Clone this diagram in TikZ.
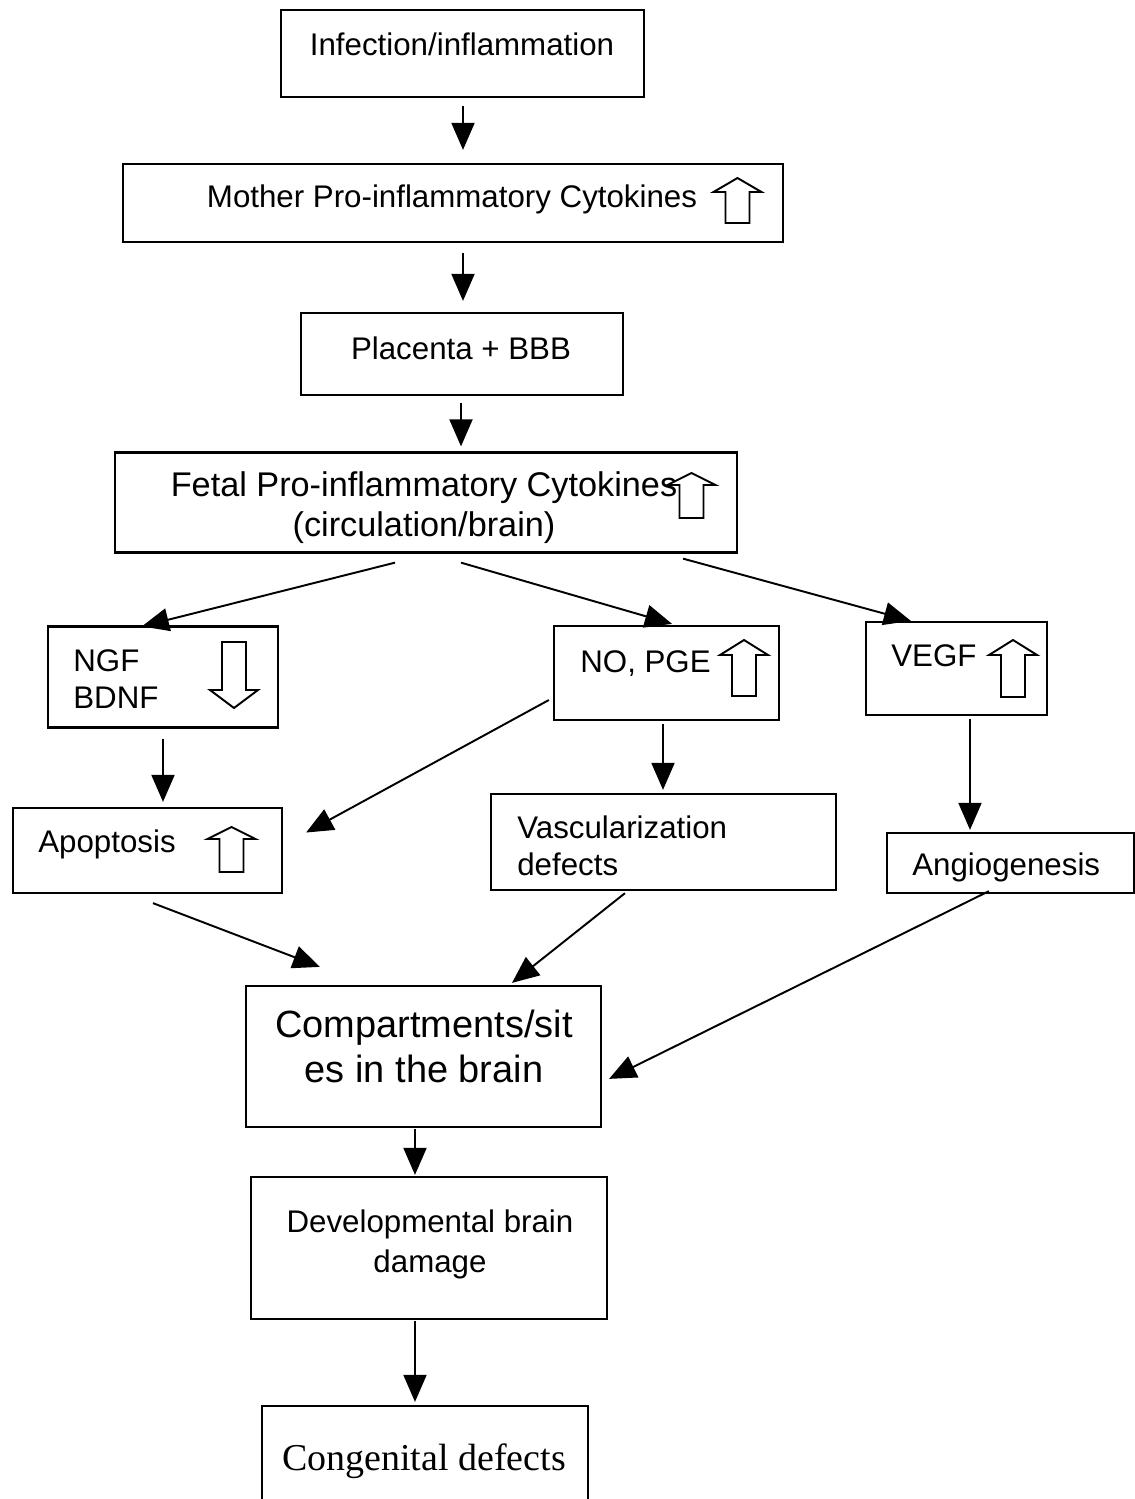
\documentclass[tikz,border=0pt]{standalone}
\usepackage{fontspec}
\setmainfont{Liberation Sans}
\newfontfamily\congfont{Liberation Serif}
\usetikzlibrary{arrows.meta,calc}
\tikzset{
  box/.style={draw, line width=1.3pt, rectangle, inner sep=0pt},
  txt/.style={inner sep=0pt, anchor=base, font=\fontsize{17.8}{20.6}\selectfont},
  ltxt/.style={txt, anchor=base west, align=left},
  arr/.style={line width=1.1pt, -{Triangle[length=0.54cm,width=0.46cm]}},
  hollow/.style={draw, line width=1.1pt, line join=miter},
  pics/updown/.style 2 args={code={
    \draw[hollow] (-12,0) -- (-12,-#1+#2) -- (-24,-#1+#2) -- (0,-#1)
      -- (24,-#1+#2) -- (12,-#1+#2) -- (12,0) -- cycle;}}
}
\begin{document}
\begin{tikzpicture}[x=0.02cm,y=-0.02cm]
\useasboundingbox (0,0) rectangle (1135,1499);

\node[box, minimum width=7.26cm, minimum height=1.74cm] (infect) at (462.5,53.5) {};
\node[txt] (infect-t) at (462,55) {Infection/inflammation};

\node[box, minimum width=13.2cm, minimum height=1.56cm] (mother) at (453,203) {};
\node[txt] (mother-t) at (452,207) {Mother Pro-inflammatory Cytokines};
\pic at (737.5,223) {updown={45}{14}};

\node[box, minimum width=6.44cm, minimum height=1.64cm] (placenta) at (462,354) {};
\node[txt] (placenta-t) at (461,359) {Placenta + BBB};

\node[box, minimum width=12.44cm, minimum height=2cm] (fetal) at (426,502.5) {};
\node[txt, font=\fontsize{19.5}{22.7}\selectfont, align=center] (fetal-t) at (424,536)
  {Fetal Pro-inflammatory Cytokines\\(circulation/brain)};
\pic at (691.5,518) {updown={45}{12}};

\node[box, minimum width=4.6cm, minimum height=2.02cm] (ngf) at (163,677) {};
\node[ltxt] (ngf-t) at (73,708) {NGF\\BDNF};
\pic[rotate=180] at (234,642) {updown={66}{18}};

\node[box, minimum width=4.5cm, minimum height=1.88cm] (nopge) at (666.5,673) {};
\node[ltxt] (nopge-t) at (580,672) {NO, PGE};
\pic at (744,696) {updown={56}{15}};

\node[box, minimum width=3.62cm, minimum height=1.86cm] (vegf) at (956.5,668.5) {};
\node[ltxt] (vegf-t) at (891,666) {VEGF};
\pic at (1013,697) {updown={57}{15}};

\node[box, minimum width=5.38cm, minimum height=1.7cm] (apop) at (147.5,850.5) {};
\node[ltxt] (apop-t) at (38,852) {Apoptosis};
\pic at (231.5,872) {updown={45}{12}};

\node[box, minimum width=6.9cm, minimum height=1.92cm] (vasc) at (663.5,842) {};
\node[ltxt, font=\fontsize{17.8}{21}\selectfont] (vasc-t) at (517,875) {Vascularization\\defects};

\node[box, minimum width=4.94cm, minimum height=1.2cm] (angio) at (1010.5,863) {};
\node[ltxt] (angio-t) at (912,875) {Angiogenesis};

\node[box, minimum width=7.1cm, minimum height=2.82cm] (comp) at (423.5,1056.5) {};
\node[txt, font=\fontsize{21.6}{25.5}\selectfont, align=center] (comp-t) at (424,1082)
  {Compartments/sit\\es in the brain};

\node[box, minimum width=7.12cm, minimum height=2.84cm] (devel) at (429,1248) {};
\node[txt, align=center, font=\fontsize{17.8}{22.7}\selectfont] (devel-t) at (430,1272)
  {Developmental brain\\damage};

\node[box, minimum width=6.52cm, minimum height=2.4cm] (cong) at (425,1466) {};
\node[txt, font=\congfont\fontsize{21.6}{25}\selectfont] (cong-t) at (424,1470) {Congenital defects};

\draw[arr] ($(infect.south)+(0.5,8)$) -- ($(infect.south |- mother.north)+(0.5,-13)$);
\draw[arr] ($(placenta.north |- mother.south)+(1,10)$) -- ($(placenta.north)+(1,-11)$);
\draw[arr] ($(placenta.south)+(-1,7)$) -- ($(placenta.south |- fetal.north)+(-1,-5)$);
\draw[arr] ($(fetal.south)+(-31,9)$) -- ($(ngf.north west)+(95,1)$);
\draw[arr] ($(fetal.south)+(35,9)$) -- ($(nopge.north)+(5.5,-1)$);
\draw[arr] ($(fetal.south east)+(-55,5)$) -- ($(vegf.north west)+(46,0)$);
\draw[arr] ($(ngf.south)+(0,10)$) -- ($(ngf.south |- apop.north)+(0,-5)$);
\draw[arr] ($(nopge.west)+(-4,27)$) -- ($(apop.east)+(23,-18)$);
\draw[arr] ($(nopge.south)+(-3.5,3)$) -- ($(nopge.south |- vasc.north)+(-3.5,-3)$);
\draw[arr] ($(vegf.south)+(13.5,3)$) -- ($(vegf.south |- angio.north)+(13.5,-2)$);
\draw[arr] ($(apop.south)+(5.5,9)$) -- ($(comp.north west)+(75,-18)$);
\draw[arr] ($(vasc.south)+(-38.5,2)$) -- ($(comp.north)+(88.5,-2)$);
\draw[arr] ($(angio.south west)+(103,-3)$) -- ($(comp.north east)+(7,94)$);
\draw[arr] ($(comp.south)+(-8.5,1)$) -- ($(comp.south |- devel.north)+(-8.5,-1)$);
\draw[arr] ($(devel.south)+(-14,1)$) -- ($(devel.south |- cong.north)+(-14,-3)$);
\end{tikzpicture}
\end{document}
